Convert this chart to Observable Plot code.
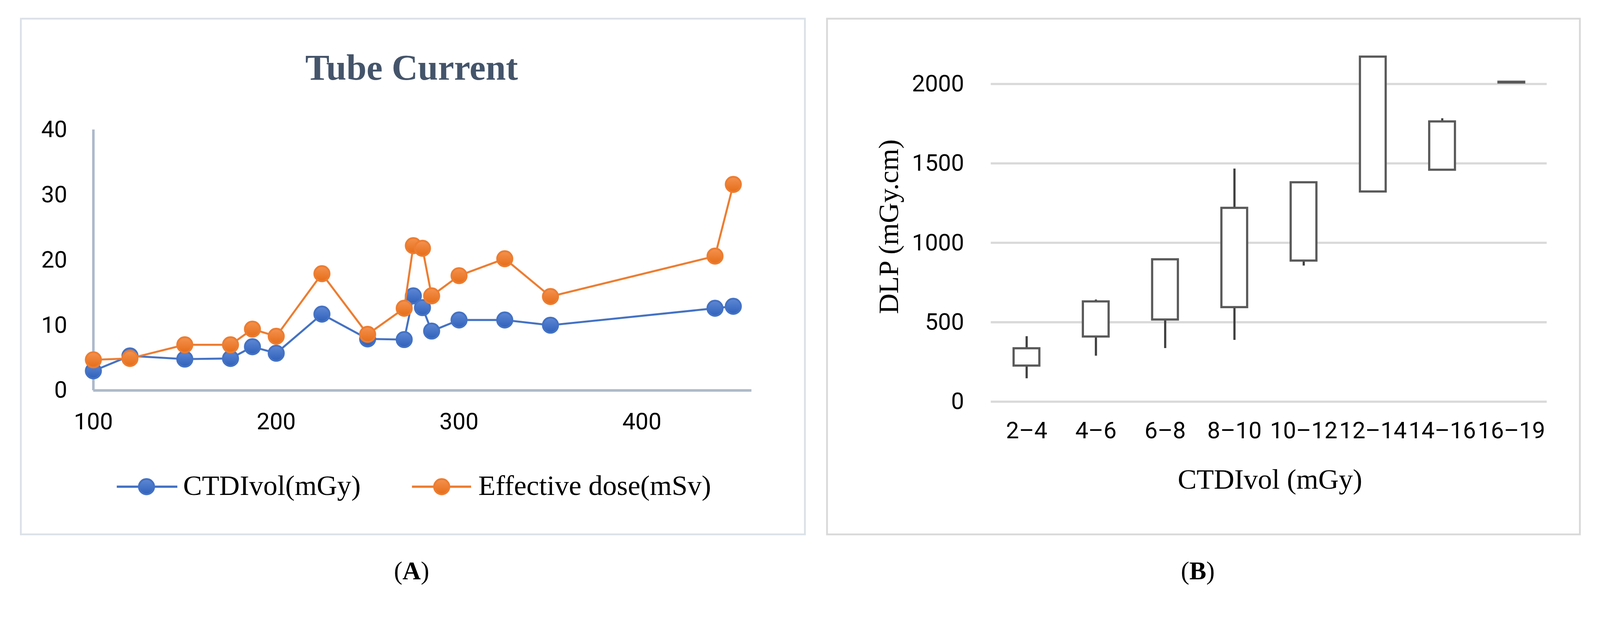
<!DOCTYPE html>
<html>
<head>
<meta charset="utf-8">
<script src="https://cdn.jsdelivr.net/npm/d3@7"></script>
<script src="https://cdn.jsdelivr.net/npm/@observablehq/plot@0.6"></script>
<style>
  html, body { margin: 0; padding: 0; background: #fff; overflow: hidden; }
  #page { position: absolute; left: 0; top: 0; width: 4412px; height: 1646px; overflow: hidden; background: #fff; transform-origin: 0 0; }
  #page > svg { position: absolute; }
  .serif { font-family: "Liberation Serif", "DejaVu Serif", serif; }
</style>
</head>
<body>
<div id="page">
<svg id="overlay" width="4412" height="1646" style="left:0;top:0" xmlns="http://www.w3.org/2000/svg">
  <defs>
    <linearGradient id="gBlue" x1="0" y1="0" x2="0" y2="1">
      <stop offset="0" stop-color="#5f88d4"/>
      <stop offset="1" stop-color="#2f61bb"/>
    </linearGradient>
    <linearGradient id="gOrange" x1="0" y1="0" x2="0" y2="1">
      <stop offset="0" stop-color="#f4924f"/>
      <stop offset="1" stop-color="#e56d18"/>
    </linearGradient>
  </defs>
  <rect x="57.5" y="51.5" width="2162" height="1422" fill="none" stroke="#dce1e8" stroke-width="5"/>
  <rect x="2280.5" y="51.5" width="2076" height="1422" fill="none" stroke="#d9d9d9" stroke-width="5"/>
  <text class="serif" x="1135" y="220" text-anchor="middle" font-size="100" font-weight="bold" fill="#44546a">Tube Current</text>
  <line x1="322" x2="489" y1="1342" y2="1342" stroke="#4472c4" stroke-width="6"/>
  <circle cx="404" cy="1342" r="21" fill="url(#gBlue)" stroke="#4472c4" stroke-width="5"/>
  <text class="serif" x="505" y="1365" font-size="78" fill="#000">CTDIvol(mGy)</text>
  <line x1="1136" x2="1299" y1="1342" y2="1342" stroke="#ed7d31" stroke-width="6"/>
  <circle cx="1218" cy="1342" r="21" fill="url(#gOrange)" stroke="#ed7d31" stroke-width="5"/>
  <text class="serif" x="1319" y="1365" font-size="78" fill="#000">Effective dose(mSv)</text>
  <text class="serif" x="1135" y="1597" text-anchor="middle" font-size="70" fill="#000">(<tspan font-weight="bold">A</tspan>)</text>
  <text class="serif" x="3303" y="1597" text-anchor="middle" font-size="70" fill="#000">(<tspan font-weight="bold">B</tspan>)</text>
  <text class="serif" x="3502" y="1347" text-anchor="middle" font-size="78" fill="#000">CTDIvol (mGy)</text>
  <text class="serif" transform="translate(2476,625) rotate(-90)" text-anchor="middle" font-size="78" fill="#000">DLP (mGy.cm)</text>
</svg>
</div>
<script>
// ---------- Panel A data: Tube Current ----------
const tubeCurrent = [100, 120, 150, 175, 187, 200, 225, 250, 270, 275, 280, 285, 300, 325, 350, 440, 450];
const ctdiVol     = [3.0, 5.3, 4.8, 4.9, 6.7, 5.7, 11.7, 7.9, 7.8, 14.5, 12.7, 9.1, 10.8, 10.8, 10.0, 12.6, 12.9];
const effDose     = [4.7, 4.9, 7.0, 7.0, 9.4, 8.3, 17.9, 8.6, 12.6, 22.2, 21.8, 14.5, 17.6, 20.2, 14.4, 20.6, 31.6];
const xTicksA = [100, 200, 300, 400];
const yTicksA = [0, 10, 20, 30, 40];

// ---------- Panel B data: DLP by CTDIvol bin ----------
const ctdiBins    = ["2–4", "4–6", "6–8", "8–10", "10–12", "12–14", "14–16", "16–19"];
const whiskerLow  = [146, 288, 336, 388, 856, 1322, 1459, 2008];
const boxLow      = [226, 409, 516, 594, 887, 1322, 1459, 2008];
const boxHigh     = [335, 630, 895, 1219, 1380, 2171, 1763, 2013];
const whiskerHigh = [411, 642, 895, 1466, 1380, 2171, 1783, 2013];
const yTicksB = [0, 500, 1000, 1500, 2000];

const numFont = "Roboto, 'Liberation Sans Narrow', sans-serif";
const page = document.getElementById("page");

function fit() {
  const s = Math.min(window.innerWidth / 4412, window.innerHeight / 1646);
  page.style.transform = (s > 0 && Math.abs(s - 1) > 0.002) ? `scale(${s})` : "none";
}
fit();
window.addEventListener("resize", fit);

const rowsA = tubeCurrent.map((x, i) => ({x, ctdi: ctdiVol[i], ed: effDose[i]}));
const plotA = Plot.plot({
  width: 2250, height: 1300,
  marginLeft: 257, marginRight: 178, marginTop: 357, marginBottom: 224,
  x: {domain: [100, 460]},
  y: {domain: [0, 40]},
  style: {fontFamily: numFont, fontSize: "64px", color: "#000", background: "transparent", overflow: "visible"},
  marks: [
    Plot.axisX({ticks: xTicksA, tickSize: 0, tickPadding: 62, label: null, tickFormat: d => String(d)}),
    Plot.axisY({ticks: yTicksA, tickSize: 0, tickPadding: 72, label: null, tickFormat: d => String(d)}),
    Plot.ruleX([100], {stroke: "#adb9ca", strokeWidth: 7}),
    Plot.ruleY([0], {stroke: "#adb9ca", strokeWidth: 7}),
    Plot.line(rowsA, {x: "x", y: "ctdi", stroke: "#4472c4", strokeWidth: 5.5}),
    Plot.dot(rowsA, {x: "x", y: "ctdi", r: 21, fill: "url(#gBlue)", stroke: "#4472c4", strokeWidth: 5}),
    Plot.line(rowsA, {x: "x", y: "ed", stroke: "#ed7d31", strokeWidth: 5.5}),
    Plot.dot(rowsA, {x: "x", y: "ed", r: 21, fill: "url(#gOrange)", stroke: "#ed7d31", strokeWidth: 5})
  ]
});
plotA.style.left = "0px"; plotA.style.top = "0px"; plotA.style.position = "absolute";
page.appendChild(plotA);

const rowsB = ctdiBins.map((c, i) => ({c, wl: whiskerLow[i], bl: boxLow[i], bh: boxHigh[i], wh: whiskerHigh[i]}));
const plotB = Plot.plot({
  width: 2212, height: 1300,
  marginLeft: 532, marginRight: 147, marginTop: 231, marginBottom: 193,
  x: {domain: ctdiBins, padding: 0},
  y: {domain: [0, 2000]},
  style: {fontFamily: numFont, fontSize: "64px", color: "#000", background: "transparent", overflow: "visible"},
  marks: [
    Plot.ruleY(yTicksB, {stroke: "#d9d9d9", strokeWidth: 6}),
    Plot.axisY({ticks: yTicksB, tickSize: 0, tickPadding: 74, label: null, tickFormat: d => String(d)}),
    Plot.axisX({tickSize: 0, tickPadding: 56, label: null}),
    Plot.ruleX(rowsB, {x: "c", y1: "wl", y2: "wh", stroke: "#404040", strokeWidth: 6}),
    Plot.barY(rowsB, {x: "c", y1: "bl", y2: "bh", fill: "#fff", stroke: "#595959", strokeWidth: 6, insetLeft: 60, insetRight: 60})
  ]
});
plotB.style.left = "2200px"; plotB.style.top = "0px"; plotB.style.position = "absolute";
page.appendChild(plotB);
</script>
</body>
</html>
